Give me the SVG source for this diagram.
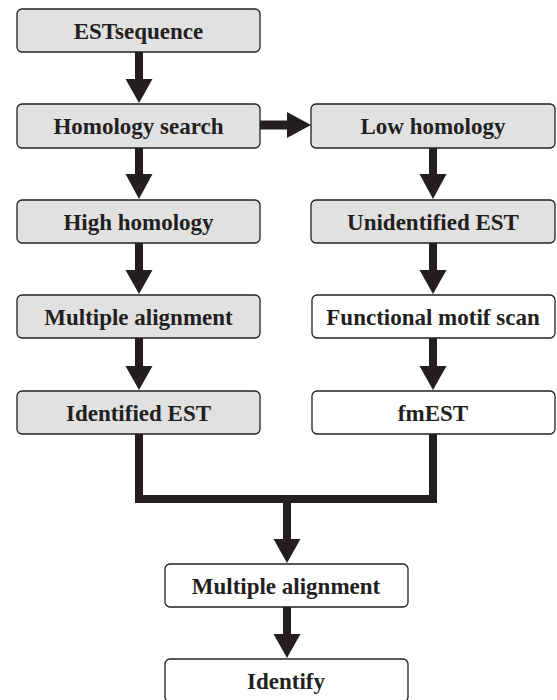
<svg xmlns="http://www.w3.org/2000/svg" width="557" height="700" viewBox="0 0 557 700">
<style>
.box{stroke:#231f20;stroke-width:1.3}
.g{fill:#e1e1e2}
.w{fill:#ffffff}
.t{font-family:"Liberation Serif","Times New Roman",serif;font-weight:bold;font-size:23px;fill:#231f20;text-anchor:middle}
.sh{stroke:#231f20;stroke-width:8;fill:none}
.hd{fill:#231f20}
</style>
<rect width="557" height="700" fill="#ffffff"/>
<g id="connectors">
  <line class="sh" x1="139" y1="52" x2="139" y2="81"/>
  <polygon class="hd" points="125.5,79 152.5,79 139,103"/>
  <line class="sh" x1="139" y1="148" x2="139" y2="176"/>
  <polygon class="hd" points="125.5,174 152.5,174 139,199"/>
  <line class="sh" x1="139" y1="243" x2="139" y2="272"/>
  <polygon class="hd" points="125.5,270 152.5,270 139,294"/>
  <line class="sh" x1="139" y1="338" x2="139" y2="368"/>
  <polygon class="hd" points="125.5,366 152.5,366 139,390"/>
  <line class="sh" x1="260" y1="125" x2="289" y2="125" style="stroke-width:9"/>
  <polygon class="hd" points="287,112 287,138 311,125"/>
  <line class="sh" x1="433" y1="148" x2="433" y2="176"/>
  <polygon class="hd" points="419.5,174 446.5,174 433,199"/>
  <line class="sh" x1="433" y1="243" x2="433" y2="272"/>
  <polygon class="hd" points="419.5,270 446.5,270 433,294"/>
  <line class="sh" x1="433" y1="338" x2="433" y2="368"/>
  <polygon class="hd" points="419.5,366 446.5,366 433,390"/>
  <polyline class="sh" points="139,434 139,499 433,499 433,434"/>
  <line class="sh" x1="287" y1="499" x2="287" y2="541"/>
  <polygon class="hd" points="273.5,539 300.5,539 287,563"/>
  <line class="sh" x1="287" y1="607" x2="287" y2="636"/>
  <polygon class="hd" points="273.5,634 300.5,634 287,658"/>
</g>
<g id="n1"><rect class="box g" x="17" y="9" width="243" height="43" rx="5"/><text class="t" x="138.5" y="39">ESTsequence</text></g>
<g id="n2"><rect class="box g" x="17" y="104" width="243" height="44" rx="5"/><text class="t" x="138.5" y="134">Homology search</text></g>
<g id="n3"><rect class="box g" x="311" y="104" width="244" height="44" rx="5"/><text class="t" x="433" y="134">Low homology</text></g>
<g id="n4"><rect class="box g" x="17" y="200" width="243" height="43" rx="5"/><text class="t" x="138.5" y="230">High homology</text></g>
<g id="n5"><rect class="box g" x="311" y="200" width="244" height="43" rx="5"/><text class="t" x="433" y="230">Unidentified EST</text></g>
<g id="n6"><rect class="box g" x="17" y="295" width="243" height="43" rx="5"/><text class="t" x="138.5" y="325">Multiple alignment</text></g>
<g id="n7"><rect class="box w" x="312" y="295" width="243" height="43" rx="5"/><text class="t" x="433" y="325">Functional motif scan</text></g>
<g id="n8"><rect class="box g" x="17" y="391" width="243" height="43" rx="5"/><text class="t" x="138.5" y="421">Identified EST</text></g>
<g id="n9"><rect class="box w" x="312" y="391" width="243" height="43" rx="5"/><text class="t" x="433" y="421">fmEST</text></g>
<g id="n10"><rect class="box w" x="165" y="564" width="243" height="43" rx="5"/><text class="t" x="286" y="594">Multiple alignment</text></g>
<g id="n11"><rect class="box w" x="165" y="659" width="243" height="43" rx="5"/><text class="t" x="286" y="689">Identify</text></g>
</svg>
